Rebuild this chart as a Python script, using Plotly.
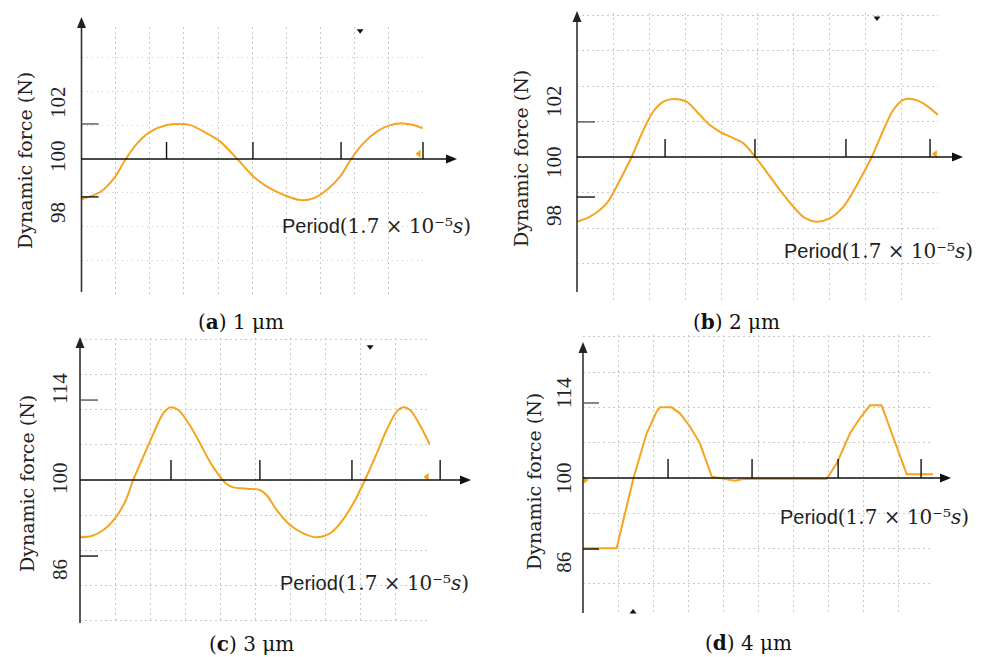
import plotly.graph_objects as go

# ---------------- data (x in grid units of the period axis, y in N) ----------------
a_x = [0.0, 0.56, 0.95, 1.29, 1.63, 2.02, 2.50, 2.85, 3.19, 3.67, 4.06, 4.57, 5.04, 5.43,
       5.92, 6.40, 6.79, 7.18, 7.57, 7.89, 8.25, 8.65, 9.04, 9.42, 9.72, 9.99]
a_y = [98.59, 98.85, 99.32, 99.99, 100.55, 100.96, 101.19, 101.23, 101.19, 100.90, 100.61,
       99.99, 99.38, 99.03, 98.74, 98.56, 98.62, 98.91, 99.38, 99.99, 100.55, 100.96,
       101.19, 101.25, 101.19, 101.08]

b_x = [0.0, 0.36, 0.82, 1.19, 1.51, 1.84, 2.11, 2.39, 2.71, 3.04, 3.36, 3.68, 3.96, 4.24,
       4.61, 4.93, 5.25, 5.62, 5.99, 6.32, 6.64, 7.01, 7.38, 7.75, 8.16, 8.49, 8.76, 9.04,
       9.27, 9.59, 10.0]
b_y = [97.77, 97.94, 98.40, 99.21, 99.99, 100.93, 101.56, 101.91, 102.0, 101.9, 101.51,
       101.10, 100.87, 100.70, 100.47, 100.01, 99.49, 98.86, 98.29, 97.89, 97.77, 97.89,
       98.29, 99.03, 99.99, 100.93, 101.62, 101.97, 102.0, 101.85, 101.45]

c_x = [0.0, 0.33, 0.67, 1.0, 1.29, 1.52, 1.81, 2.10, 2.38, 2.59, 2.81, 3.10, 3.43, 3.71,
       4.0, 4.19, 4.38, 4.76, 5.14, 5.33, 5.62, 6.0, 6.38, 6.76, 7.14, 7.43, 7.81, 8.14,
       8.48, 8.76, 9.05, 9.24, 9.43, 9.71, 10.0]
c_y = [91.18, 91.38, 92.31, 94.10, 96.67, 100.0, 103.59, 107.18, 110.26, 111.18, 110.77,
       108.72, 105.64, 102.82, 100.51, 99.38, 98.87, 98.67, 98.46, 97.69, 95.38, 93.08,
       91.79, 91.18, 91.79, 93.33, 96.41, 100.0, 104.10, 107.69, 110.51, 111.18, 110.77,
       108.46, 105.38]

d_x = [0.0, 0.96, 1.44, 1.82, 2.1, 2.2, 2.53, 2.77, 3.06, 3.34, 3.68, 4.01, 4.34, 4.58,
       6.96, 7.25, 7.63, 7.91, 8.2, 8.53, 9.25, 10.0]
d_y = [88.37, 88.37, 99.95, 107.39, 110.96, 111.68, 111.68, 110.69, 108.48, 105.73, 100.22,
       99.83, 99.56, 99.83, 99.83, 102.42, 107.39, 109.87, 112.02, 112.02, 100.61, 100.61]

# tick marks on the axes (data units)
a_xticks = [2.49, 5.02, 7.6, 10.0]
b_xticks = [2.44, 4.93, 7.45, 9.78]
c_xticks = [2.6, 5.14, 7.77, 10.29]
d_xticks = [2.43, 4.83, 7.29, 9.66]
a_yticks = [101.23, 98.67]
b_yticks = [101.21, 98.62]
c_yticks = [112.3, 88.3]
d_yticks = [112.4, 88.26]

# y tick labels
a_ylabels = ["102", "100", "98"]
b_ylabels = ["102", "100", "98"]
c_ylabels = ["114", "100", "86"]
d_ylabels = ["114", "100", "86"]
a_ylabel_vals = [102, 100, 98]
b_ylabel_vals = [102, 100, 98]
c_ylabel_vals = [114, 100, 86]
d_ylabel_vals = [114, 100, 86]

# small stray markers seen in the picture
a_mk_black = (8.16, 104.5)
a_mk_orange = (9.88, 100.18)
b_mk_black = (8.31, 104.79)
b_mk_orange = (9.92, 100.1)
c_mk_black = (8.29, 120.5)
c_mk_orange = (9.91, 100.46)
d_mk_black = (1.43, 77.85)
d_mk_orange = (0.06, 99.67)

captions = ["(<b>a</b>) 1 μm", "(<b>b</b>) 2 μm", "(<b>c</b>) 3 μm", "(<b>d</b>) 4 μm"]
period_text = "Period<span style='font-family:DejaVu Serif'>(1.7 × 10⁻⁵<i>s</i>)</span>"
ytitle = "Dynamic force (N)"

# ---------------- layout geometry (pixels) ----------------
W, H = 993, 657
ORANGE = "#F6A41F"

panels = [
    dict(x=a_x, y=a_y, xt=a_xticks, yt=a_yticks, yl=a_ylabels, ylv=a_ylabel_vals,
         ylshift=[0, 3, 3], mkb=a_mk_black, mkbs="triangle-down", mko=a_mk_orange,
         mkos="triangle-left", shape="spline",
         X0=81.5, X1=423, Y100=159, s=28.5, gy=33.7, Ytop=27, Ybot=294.5,
         yaxbot=292, yaxtop=17, xaxend=457, xtl=17, ytl=17, labx=58, titx=25, tity=161,
         perx=280, pery=226, capx=241, capy=322),
    dict(x=b_x, y=b_y, xt=b_xticks, yt=b_yticks, yl=b_ylabels, ylv=b_ylabel_vals,
         ylshift=[-2, -5, -1], mkb=b_mk_black, mkbs="triangle-down", mko=b_mk_orange,
         mkos="triangle-left", shape="spline",
         X0=577, X1=938, Y100=157, s=29.0, gy=35.5, Ytop=13, Ybot=299.5,
         yaxbot=292, yaxtop=11, xaxend=963, xtl=18, ytl=18, labx=554, titx=521, tity=159,
         perx=782, pery=251, capx=736, capy=322),
    dict(x=c_x, y=c_y, xt=c_xticks, yt=c_yticks, yl=c_ylabels, ylv=c_ylabel_vals,
         ylshift=[0, 2, 1], mkb=c_mk_black, mkbs="triangle-down", mko=c_mk_orange,
         mkos="triangle-left", shape="spline",
         X0=80, X1=430, Y100=480, s=6.5, gy=35.2, Ytop=338, Ybot=622,
         yaxbot=623, yaxtop=337, xaxend=471, xtl=20, ytl=18, labx=60, titx=27, tity=484,
         perx=278, pery=583, capx=251, capy=644),
    dict(x=d_x, y=d_y, xt=d_xticks, yt=d_yticks, yl=d_ylabels, ylv=d_ylabel_vals,
         ylshift=[0, 0, 0], mkb=d_mk_black, mkbs="triangle-up", mko=d_mk_orange,
         mkos="triangle-right", shape="linear",
         X0=583, X1=933, Y100=478, s=6.05, gy=35.3, Ytop=335, Ybot=614,
         yaxbot=613, yaxtop=342, xaxend=951, xtl=19, ytl=16, labx=564, titx=534, tity=482,
         perx=778, pery=517, capx=748, capy=643),
]

fig = go.Figure()
shapes = []
annotations = []
HEAD_L, HEAD_W = 11, 9  # arrow head length / width in px


def pxx(px):
    return px / W


def pxy(py):
    return 1 - py / H


for i, p in enumerate(panels):
    n = i + 1
    xa = "x" if n == 1 else f"x{n}"
    ya = "y" if n == 1 else f"y{n}"
    ymin = 100 - (p["Ybot"] - p["Y100"]) / p["s"]
    ymax = 100 + (p["Y100"] - p["Ytop"]) / p["s"]
    ux = (p["X1"] - p["X0"]) / 10.0  # px per x unit

    def dx(v, p=p, ux=ux):
        return pxx(p["X0"] + v * ux)

    def dy(v, p=p):
        return pxy(p["Y100"] - (v - 100) * p["s"])

    fig.add_trace(go.Scatter(x=p["x"], y=p["y"], mode="lines", xaxis=xa, yaxis=ya,
                             line=dict(color=ORANGE, width=2, shape=p["shape"]),
                             showlegend=False, hoverinfo="skip"))
    fig.add_trace(go.Scatter(x=[p["mkb"][0]], y=[p["mkb"][1]], mode="markers",
                             xaxis=xa, yaxis=ya, cliponaxis=False, showlegend=False,
                             hoverinfo="skip",
                             marker=dict(symbol=p["mkbs"], size=6, color="#111")))
    fig.add_trace(go.Scatter(x=[p["mko"][0]], y=[p["mko"][1]], mode="markers",
                             xaxis=xa, yaxis=ya, cliponaxis=False, showlegend=False,
                             hoverinfo="skip",
                             marker=dict(symbol=p["mkos"], size=7, color=ORANGE)))

    grid = dict(showgrid=True, gridcolor="#c9c9c9", gridwidth=1.3, griddash="1.5px,3.5px",
                zeroline=False, showline=False, ticks="", showticklabels=False,
                fixedrange=True)
    fig.update_layout(**{
        ("xaxis" if n == 1 else f"xaxis{n}"): dict(
            domain=[pxx(p["X0"]), pxx(p["X1"])], range=[0, 10], tick0=0, dtick=1,
            anchor=ya, **grid),
        ("yaxis" if n == 1 else f"yaxis{n}"): dict(
            domain=[pxy(p["Ybot"]), pxy(p["Ytop"])], range=[ymin, ymax], tick0=100,
            dtick=p["gy"] / p["s"], anchor=xa, **grid),
    })

    # y axis line + arrow head
    shapes.append(dict(type="line", xref="paper", yref="paper", x0=pxx(p["X0"]),
                       x1=pxx(p["X0"]), y0=pxy(p["yaxbot"]),
                       y1=pxy(p["yaxtop"] + HEAD_L - 1),
                       line=dict(color="#333", width=1.6)))
    ax0, at, ab = pxx(p["X0"]), pxy(p["yaxtop"]), pxy(p["yaxtop"] + HEAD_L)
    hw = HEAD_W / 2 / W
    shapes.append(dict(type="path", xref="paper", yref="paper",
                       path=f"M {ax0 - hw} {ab} L {ax0} {at} L {ax0 + hw} {ab} Z",
                       fillcolor="#222", line=dict(width=0)))
    # x axis line through y = 100 + arrow head
    yb = dy(100)
    shapes.append(dict(type="line", xref="paper", yref="paper", x0=pxx(p["X0"]),
                       x1=pxx(p["xaxend"] - HEAD_L + 1), y0=yb, y1=yb,
                       line=dict(color="#111", width=1.6)))
    xt_, xb_ = pxx(p["xaxend"]), pxx(p["xaxend"] - HEAD_L)
    hh = HEAD_W / 2 / H
    shapes.append(dict(type="path", xref="paper", yref="paper",
                       path=f"M {xb_} {yb - hh} L {xt_} {yb} L {xb_} {yb + hh} Z",
                       fillcolor="#111", line=dict(width=0)))
    # x tick marks (upward)
    for t in p["xt"]:
        shapes.append(dict(type="line", xref="paper", yref="paper", x0=dx(t), x1=dx(t),
                           y0=yb, y1=yb + p["xtl"] / H,
                           line=dict(color="#111", width=1.4)))
    # y tick marks (rightward)
    for j, t in enumerate(p["yt"]):
        shapes.append(dict(type="line", xref="paper", yref="paper", x0=pxx(p["X0"]),
                           x1=pxx(p["X0"] + p["ytl"]), y0=dy(t), y1=dy(t),
                           line=dict(color="#555" if j == 0 else "#111", width=1.4)))
    # y tick labels (rotated)
    for lab, v, sh in zip(p["yl"], p["ylv"], p["ylshift"]):
        annotations.append(dict(xref="paper", yref="paper", x=pxx(p["labx"]), y=dy(v),
                                yshift=sh, text=lab, showarrow=False, textangle=-90,
                                xanchor="center", yanchor="middle",
                                font=dict(family="Liberation Serif", size=21, color="#222")))
    # y title
    annotations.append(dict(xref="paper", yref="paper", x=pxx(p["titx"]), y=pxy(p["tity"]),
                            text=ytitle, showarrow=False, textangle=-90,
                            xanchor="center", yanchor="middle",
                            font=dict(family="DejaVu Serif", size=19, color="#222")))
    # period label
    annotations.append(dict(xref="paper", yref="paper", x=pxx(p["perx"]), y=pxy(p["pery"]),
                            text=period_text, showarrow=False, xanchor="left",
                            yanchor="middle",
                            font=dict(family="Liberation Sans", size=20, color="#222")))
    # caption
    annotations.append(dict(xref="paper", yref="paper", x=pxx(p["capx"]), y=pxy(p["capy"]),
                            text=captions[i], showarrow=False, xanchor="center",
                            yanchor="middle",
                            font=dict(family="DejaVu Serif", size=20, color="#111")))

fig.update_layout(width=W, height=H, margin=dict(l=0, r=0, t=0, b=0),
                  paper_bgcolor="white", plot_bgcolor="white",
                  shapes=shapes, annotations=annotations, showlegend=False)

fig.write_html("out.html", config={"displayModeBar": False},
               post_script="document.body.style.margin='0px';")
